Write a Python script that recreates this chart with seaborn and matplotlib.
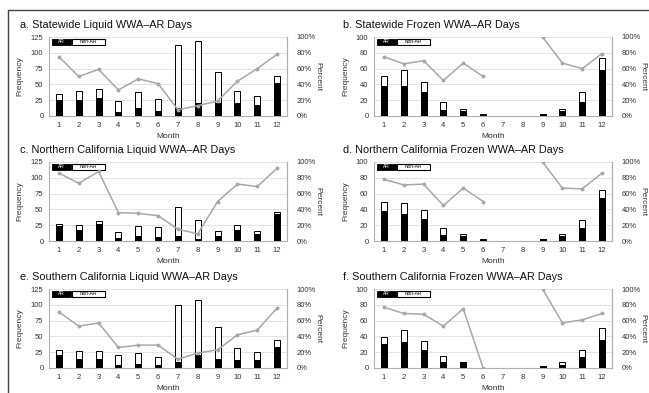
import numpy as np
import pandas as pd
import matplotlib
matplotlib.use("Agg")
import matplotlib.pyplot as plt
import seaborn as sns
from matplotlib.patches import Rectangle
from matplotlib.lines import Line2D

months = [str(m) for m in range(1, 13)]
nan = np.nan

# a. Statewide Liquid
a_total = [35, 40, 42, 23, 38, 27, 112, 119, 70, 40, 32, 64]
a_ar = [26, 25, 28, 7, 13, 8, 12, 21, 20, 21, 18, 52]
a_pct = [75, 50, 59, 33, 47, 41, 8, 13, 19, 44, 60, 78]

# b. Statewide Frozen
b_total = [51, 58, 43, 18, 9, 2, 0, 0, 3, 9, 30, 74]
b_ar = [38, 38, 30, 8, 6, 1, 0, 0, 3, 6, 18, 58]
b_pct = [75, 66, 70, 45, 67, 50, nan, nan, 100, 67, 60, 79]

# c. Northern California Liquid
c_total = [27, 25, 31, 14, 23, 22, 54, 33, 16, 25, 16, 46]
c_ar = [23, 18, 27, 5, 8, 7, 8, 3, 8, 18, 11, 42]
c_pct = [86, 73, 88, 36, 35, 32, 15, 9, 50, 72, 69, 92]

# d. Northern California Frozen
d_total = [49, 48, 39, 17, 9, 2, 0, 0, 2, 9, 26, 64]
d_ar = [38, 34, 28, 8, 6, 1, 0, 0, 2, 6, 17, 55]
d_pct = [78, 71, 72, 45, 67, 50, nan, nan, 100, 67, 66, 86]

# e. Southern California Liquid
e_total = [28, 27, 27, 20, 24, 17, 100, 108, 65, 31, 25, 45]
e_ar = [20, 14, 15, 5, 7, 5, 10, 21, 15, 13, 12, 34]
e_pct = [71, 53, 57, 26, 29, 29, 11, 19, 23, 42, 48, 76]

# f. Southern California Frozen
f_total = [39, 48, 34, 15, 8, 0.6, 0, 0, 3, 7, 23, 51]
f_ar = [30, 33, 23, 8, 7, 0, 0, 0, 3, 4, 14, 35]
f_pct = [77, 69, 68, 53, 75, 0, nan, nan, 100, 57, 61, 69]

panels = [
    ("a. Statewide Liquid WWA\u2013AR Days", a_total, a_ar, a_pct, 125, 25),
    ("b. Statewide Frozen WWA\u2013AR Days", b_total, b_ar, b_pct, 100, 20),
    ("c. Northern California Liquid WWA\u2013AR Days", c_total, c_ar, c_pct, 125, 25),
    ("d. Northern California Frozen WWA\u2013AR Days", d_total, d_ar, d_pct, 100, 20),
    ("e. Southern California Liquid WWA\u2013AR Days", e_total, e_ar, e_pct, 125, 25),
    ("f. Southern California Frozen WWA\u2013AR Days", f_total, f_ar, f_pct, 100, 20),
]

sns.set_style("white")
plt.rcParams['font.family'] = ['Liberation Sans', 'DejaVu Sans']

W, H = 649, 393
fig = plt.figure(figsize=(6.49, 3.93), dpi=100)

lefts = [49, 374]
tops = [37, 162, 289]
aw, ah = 238, 79
gray_line = "#a8a8a8"
spine_c = "#b0b0b0"

for i, (title, total, ar, pct, ymax, ystep) in enumerate(panels):
    row, col = divmod(i, 2)
    x0, y0 = lefts[col], tops[row]
    ax = fig.add_axes([x0 / W, 1 - (y0 + ah) / H, aw / W, ah / H])
    df = pd.DataFrame({"Month": months, "total": total, "ar": ar})

    sns.barplot(data=df, x="Month", y="total", color="white", edgecolor="black",
                linewidth=0.7, width=0.3, saturation=1, ax=ax, zorder=3)
    sns.barplot(data=df, x="Month", y="ar", color="black", edgecolor="black",
                linewidth=0.7, width=0.3, saturation=1, ax=ax, zorder=4)

    ax.set_ylim(0, ymax)
    ax.set_yticks(np.arange(0, ymax + 1, ystep))
    ax.set_xlim(-0.5, 11.5)
    ax.grid(axis="y", color="#dedede", linewidth=0.6, zorder=0)
    ax.set_axisbelow(True)
    ax.spines["top"].set_visible(False)
    for s in ["left", "bottom", "right"]:
        ax.spines[s].set_color(spine_c)
        ax.spines[s].set_linewidth(0.8)
    ax.tick_params(length=0, labelsize=5.5, colors="#333333", pad=4)
    ax.set_ylabel("Frequency", fontsize=6, color="#333333", labelpad=5)
    ax.set_xlabel("Month", fontsize=6, color="#333333", labelpad=3)

    ax2 = ax.twinx()
    ax2.plot(np.arange(12), pct, color=gray_line, linewidth=1.1, marker="o",
             markersize=1.8, zorder=5)
    ax2.set_ylim(0, 100)
    ax2.set_yticks(np.arange(0, 101, 20))
    ax2.set_yticklabels([f"{v}%" for v in range(0, 101, 20)])
    ax2.tick_params(length=0, labelsize=5.5, colors="#333333", pad=7)
    for s in ["top", "left", "bottom"]:
        ax2.spines[s].set_visible(False)
    ax2.spines["right"].set_color(spine_c)
    ax2.spines["right"].set_linewidth(0.8)
    ax2.set_ylabel("Percent", fontsize=6, color="#333333", rotation=270, labelpad=4)

    # legend boxes (AR / Non-AR)
    ax.add_patch(Rectangle((0.013, 0.905), 0.08, 0.075, transform=ax.transAxes,
                           facecolor="black", edgecolor="black", linewidth=0.6,
                           zorder=10, clip_on=False))
    ax.add_patch(Rectangle((0.097, 0.905), 0.14, 0.075, transform=ax.transAxes,
                           facecolor="white", edgecolor="black", linewidth=0.8,
                           zorder=10, clip_on=False))
    ax.text(0.053, 0.943, "AR", transform=ax.transAxes, fontsize=3.5, color="white",
            ha="center", va="center", zorder=11)
    ax.text(0.167, 0.943, "Non-AR", transform=ax.transAxes, fontsize=3.5, color="black",
            ha="center", va="center", zorder=11)

    tx = 20 if col == 0 else 343
    ty = y0 - 12
    fig.text(tx / W, 1 - ty / H, title, fontsize=7.8, ha="left", va="center", color="#111111")

# outer frame lines (top and left)
fig.add_artist(Line2D([8 / W, 1], [1 - 10 / H, 1 - 10 / H], color="#444444", linewidth=1.0))
fig.add_artist(Line2D([8 / W, 8 / W], [0, 1 - 10 / H], color="#444444", linewidth=1.0))

fig.savefig("out.png", dpi=100)
